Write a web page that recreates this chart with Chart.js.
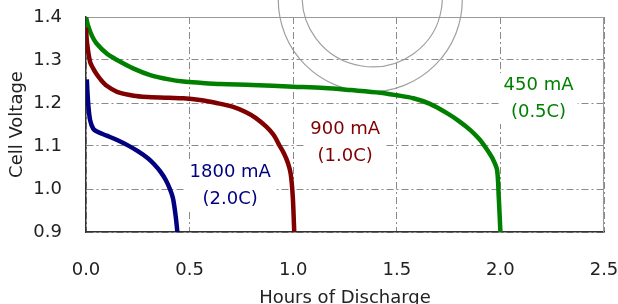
<!DOCTYPE html>
<html lang="en">
<head>
    <meta charset="UTF-8">
    <title>Cell Voltage vs Hours of Discharge</title>
    <script src="https://cdn.jsdelivr.net/npm/chart.js"></script>
    <style>
        html, body { margin: 0; padding: 0; background: #fff; }
        #wrap { width: 618px; height: 304px; }
    </style>
</head>
<body>
    <div id="wrap"><canvas id="dischargeChart" width="618" height="304"></canvas></div>
    <script>
        // discharge curves (hours, volts)
        const hours1800 = [0.004, 0.007, 0.012, 0.02, 0.035, 0.055, 0.1, 0.15, 0.2, 0.25, 0.3, 0.33, 0.36, 0.385, 0.405, 0.42, 0.433, 0.441];
        const volts1800 = [1.255, 1.225, 1.19, 1.16, 1.14, 1.133, 1.124, 1.114, 1.102, 1.088, 1.071, 1.057, 1.04, 1.021, 1.0, 0.978, 0.936, 0.9];

        const hours900 = [0, 0.005, 0.02, 0.035, 0.05, 0.07, 0.1, 0.15, 0.23, 0.3, 0.4, 0.47, 0.55, 0.63, 0.71, 0.77, 0.82, 0.87, 0.905, 0.935, 0.955, 0.975, 0.988, 0.998, 1.005];
        const volts900 = [1.375, 1.34, 1.295, 1.28, 1.268, 1.255, 1.24, 1.226, 1.217, 1.214, 1.212, 1.211, 1.207, 1.2, 1.191, 1.179, 1.165, 1.145, 1.126, 1.1, 1.083, 1.06, 1.035, 0.982, 0.9];

        const hours450 = [0, 0.01, 0.03, 0.05, 0.1, 0.15, 0.23, 0.31, 0.4, 0.47, 0.55, 0.65, 0.8, 1.0, 1.15, 1.28, 1.42, 1.5, 1.58, 1.66, 1.74, 1.8, 1.855, 1.9, 1.936, 1.965, 1.984, 1.992, 2.0];
        const volts450 = [1.4, 1.38, 1.355, 1.339, 1.315, 1.3, 1.28, 1.265, 1.255, 1.25, 1.247, 1.244, 1.242, 1.238, 1.235, 1.23, 1.224, 1.218, 1.211, 1.198, 1.177, 1.158, 1.137, 1.115, 1.091, 1.068, 1.044, 0.982, 0.9];

        const seriesNames = ['1800 mA', '900 mA', '450 mA'];
        const seriesRates = ['(2.0C)', '(1.0C)', '(0.5C)'];
        const seriesColors = ['#000080', '#800000', '#008000'];

        const xTicks = [0, 0.5, 1.0, 1.5, 2.0, 2.5];
        const yTicks = [0.9, 1.0, 1.1, 1.2, 1.3, 1.4];

        function toPoints(xs, ys) {
            return xs.map((x, i) => ({ x: x, y: ys[i] }));
        }

        // where the curve labels sit (lower line), in axis units
        const labelSpots = [
            { x: 0.696, y: 0.976 },
            { x: 1.251, y: 1.077 },
            { x: 2.184, y: 1.179 }
        ];

        const FONT = '"DejaVu Sans", sans-serif';

        // grey rings in the background, behind the curves
        const ringsPlugin = {
            id: 'rings',
            beforeDatasetsDraw(chart) {
                const c = chart.ctx;
                const xs = chart.scales.x, ys = chart.scales.y;
                const cx = xs.getPixelForValue(1.372);
                const cy = ys.getPixelForValue(1.44);
                c.save();
                c.strokeStyle = '#a0a0a0';
                c.lineWidth = 1.2;
                c.beginPath();
                c.ellipse(cx, cy, 92, 92, 0, 0, Math.PI * 2);
                c.stroke();
                c.beginPath();
                c.ellipse(cx + 2, cy - 2, 70, 69, 0.15, 0, Math.PI * 2);
                c.stroke();
                // top and right frame
                const a = chart.chartArea;
                c.strokeStyle = '#999';
                c.lineWidth = 1;
                c.beginPath();
                c.moveTo(a.left, a.top + 0.5);
                c.lineTo(a.right - 0.5, a.top + 0.5);
                c.lineTo(a.right - 0.5, a.bottom);
                c.stroke();
                c.restore();
            }
        };

        // curve labels with a white box behind them
        const labelPlugin = {
            id: 'curveLabels',
            afterDatasetsDraw(chart) {
                const c = chart.ctx;
                const xs = chart.scales.x, ys = chart.scales.y;
                c.save();
                c.font = '18px ' + FONT;
                c.textAlign = 'center';
                c.textBaseline = 'middle';
                labelSpots.forEach((spot, i) => {
                    const px = xs.getPixelForValue(spot.x);
                    const py = ys.getPixelForValue(spot.y);
                    const w = Math.max(c.measureText(seriesNames[i]).width, c.measureText(seriesRates[i]).width) + 8;
                    c.fillStyle = '#fff';
                    c.fillRect(px - w / 2, py - 39, w, 51);
                    c.fillStyle = seriesColors[i];
                    c.fillText(seriesNames[i], px, py - 27);
                    c.fillText(seriesRates[i], px, py);
                });
                c.restore();
            }
        };

        const ctx = document.getElementById('dischargeChart').getContext('2d');
        const chart = new Chart(ctx, {
            type: 'scatter',
            data: {
                datasets: [
                    { label: seriesNames[0], data: toPoints(hours1800, volts1800) },
                    { label: seriesNames[1], data: toPoints(hours900, volts900) },
                    { label: seriesNames[2], data: toPoints(hours450, volts450) }
                ].map((d, i) => Object.assign(d, {
                    showLine: true,
                    borderColor: seriesColors[i],
                    backgroundColor: seriesColors[i],
                    borderWidth: 4.5,
                    pointRadius: 0,
                    tension: 0.3,
                    fill: false
                }))
            },
            options: {
                responsive: false,
                animation: false,
                layout: { padding: { top: 17, right: 14, left: 0, bottom: 0 } },
                plugins: {
                    legend: { display: false },
                    tooltip: { enabled: false }
                },
                scales: {
                    x: {
                        type: 'linear',
                        min: 0,
                        max: 2.5,
                        afterBuildTicks: s => { s.ticks = xTicks.map(v => ({ value: v })); },
                        afterFit: s => {
                            s.height = 72;
                            s.paddingLeft = 0;
                            s.paddingRight = 0;
                        },
                        ticks: {
                            padding: 28,
                            color: '#222',
                            font: { family: FONT, size: 18 },
                            callback: v => v.toFixed(1)
                        },
                        grid: { color: '#8a8a8a', lineWidth: 1, drawTicks: false },
                        border: { color: '#333', width: 1.5, dash: [7, 3, 2, 3] },
                        title: {
                            display: true,
                            text: 'Hours of Discharge',
                            color: '#222',
                            font: { family: FONT, size: 18 },
                            padding: { top: 0, bottom: -5 }
                        }
                    },
                    y: {
                        type: 'linear',
                        min: 0.9,
                        max: 1.4,
                        afterBuildTicks: s => { s.ticks = yTicks.map(v => ({ value: v })); },
                        afterFit: s => {
                            s.width = 86;
                            s.paddingTop = 0;
                            s.paddingBottom = 0;
                        },
                        ticks: {
                            padding: 24,
                            color: '#222',
                            font: { family: FONT, size: 18 },
                            callback: v => v.toFixed(1)
                        },
                        grid: { color: '#8a8a8a', lineWidth: 1, drawTicks: false },
                        border: { color: '#333', width: 1.5, dash: [7, 3, 2, 3] },
                        title: {
                            display: true,
                            text: 'Cell Voltage',
                            color: '#222',
                            font: { family: FONT, size: 18 },
                            padding: { top: 7, bottom: 0 }
                        }
                    }
                }
            },
            plugins: [ringsPlugin, labelPlugin]
        });
    </script>
</body>
</html>
